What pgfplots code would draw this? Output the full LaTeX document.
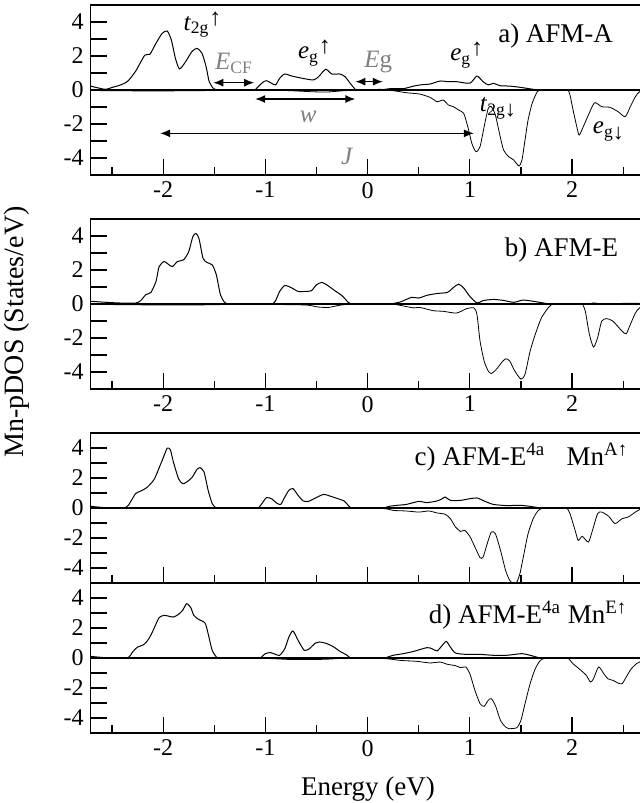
\documentclass[border=0pt]{standalone}
\usepackage{fontspec}
\setmainfont{Liberation Serif}
\usepackage{pgfplots}
\pgfplotsset{compat=1.18}
\usetikzlibrary{arrows.meta}
\definecolor{annogray}{gray}{0.5}

% one DOS panel: 51.1pt per eV, right spine pushed off the page
\pgfplotsset{dospanel/.style={
    scale only axis, width=281.6pt,
    xmin=-2.71, xmax=2.8, ymin=-5, ymax=5,
    anchor=north west,
    axis line style={line width=0.6pt},
    tick align=inside, xtick pos=bottom, ytick pos=left,
    xtick={-2,...,2}, xticklabels={-2,-1,0,1,2},
    minor xtick={-2.5,-1.5,...,2.5},
    ytick={-4,...,4}, yticklabels={-4,,-2,,0,,2,,4},
    major tick length=8pt, minor tick length=4pt,
    every tick/.style={black, line width=0.6pt},
    tick label style={font=\fontsize{12}{14}\selectfont},
    cycle list={{black, line width=0.5pt}},
    every axis plot post/.append style={smooth, tension=0.4},
    no markers,
  }}
\tikzset{
  paneltitle/.style={font=\fontsize{13.5}{16}\selectfont},
  anno/.style={font=\fontsize{12.5}{15}\selectfont},
  dbl/.style={{Latex[length=5pt,width=4pt]}-{Latex[length=5pt,width=4pt]}, line width=0.7pt},
}
\newcommand{\up}{\raisebox{0.45ex}{\fontsize{12}{14}\selectfont ↑}}
\newcommand{\dn}{\raisebox{-0.2ex}{\fontsize{11}{13}\selectfont ↓}}

\begin{document}
\begin{tikzpicture}

% ---------- a) AFM-A
\begin{axis}[dospanel, height=85pt, at={(0pt,0pt)}]
\addplot[black, line width=1pt] coordinates {(-2.71,0) (2.8,0)};
\addplot coordinates {
(-2.71,0.23) (-2.62,0.1) (-2.56,0.04) (-2.50,0.15) (-2.43,0.27) (-2.35,0.5)
(-2.27,1.1) (-2.18,2.05) (-2.13,2.1) (-2.07,2.75) (-2.01,3.33) (-1.96,3.47)
(-1.92,2.94) (-1.88,1.86) (-1.84,1.24) (-1.78,1.67) (-1.72,2.25) (-1.67,2.45)
(-1.62,2.16) (-1.58,1.37) (-1.55,0.5) (-1.51,0.1) (-1.47,0) (-1.43,0) (-1.12,0)
(-1.09,0.08) (-1.03,0.43) (-0.99,0.55) (-0.94,0.4) (-0.90,0.3) (-0.86,0.69)
(-0.81,0.94) (-0.74,0.82) (-0.64,0.69) (-0.53,0.59) (-0.48,0.78) (-0.41,1.22)
(-0.35,0.94) (-0.27,0.94) (-0.22,0.78) (-0.17,0.39) (-0.12,0.04) (-0.09,0) (-0.05,0)
(0.12,0) (0.22,0.08) (0.35,0.08) (0.45,0.23) (0.53,0.31) (0.61,0.35)
(0.71,0.53) (0.78,0.49) (0.87,0.49) (1.0,0.4) (1.07,0.82) (1.13,0.49)
(1.18,0.3) (1.23,0.39) (1.30,0.25) (1.39,0.23) (1.49,0.16) (1.62,0.04)
(1.69,0) (1.75,0) (2.8,0)
};
\addplot coordinates {
(-2.71,-0.03) (-2.3,-0.05) (-1.9,-0.05) (-1.5,-0.03) (-1.1,0) (-0.8,-0.03)
(-0.55,-0.1) (-0.4,-0.12) (-0.25,-0.05) (-0.1,0) (0.0,-0.02) (0.12,0.04)
(0.25,-0.04) (0.38,-0.16) (0.51,-0.24) (0.61,-0.43) (0.68,-0.69) (0.74,-0.59)
(0.79,-0.88) (0.84,-0.98) (0.89,-1.18) (0.94,-1.37) (0.98,-2.16) (1.02,-3.14)
(1.06,-3.63) (1.10,-3.33) (1.14,-2.16) (1.18,-1.08) (1.21,-0.98) (1.25,-1.47)
(1.29,-2.55) (1.33,-3.53) (1.38,-3.92) (1.43,-4.12) (1.48,-4.47) (1.51,-4.12)
(1.54,-2.94) (1.57,-1.76) (1.61,-0.78) (1.66,-0.1) (1.70,0) (1.74,0) (1.93,0) (1.96,0)
(1.98,-0.29) (2.01,-1.18) (2.05,-2.25) (2.07,-2.65) (2.11,-2.16) (2.16,-1.47)
(2.22,-0.75) (2.29,-0.98) (2.37,-1.02) (2.45,-1.27) (2.52,-1.57) (2.57,-0.98)
(2.62,-0.39) (2.66,-0.1) (2.72,0) (2.8,0)
};
\node[paneltitle, anchor=east] at (axis cs:2.47,3.2) {a) AFM-A};
\node[anno, anchor=west] at (axis cs:-1.87,3.85) {\textit{t}\textsubscript{2g}\up};
\node[anno, anchor=west, text=annogray] at (axis cs:-1.56,1.57) {\textit{E}\textsubscript{CF}};
\node[anno] at (axis cs:-0.52,2.16) {\textit{e}\textsubscript{g}\up};
\node[anno, anchor=west, text=annogray] at (axis cs:-0.10,1.67) {\textit{E}g};
\node[anno] at (axis cs:0.97,2.06) {\textit{e}\textsubscript{g}\up};
\node[anno, text=annogray] at (axis cs:-0.58,-1.57) {\textit{w}};
\node[anno, text=annogray] at (axis cs:-0.2,-3.9) {\textit{J}};
\node[anno] at (axis cs:1.28,-1.08) {\textit{t}\textsubscript{2g\dn}};
\node[anno] at (axis cs:2.36,-2.45) {\textit{e}\textsubscript{g\dn}};
\draw[dbl] (axis cs:-1.51,0.43) -- (axis cs:-1.11,0.43);
\draw[dbl] (axis cs:-0.12,0.49) -- (axis cs:0.15,0.49);
\draw[dbl] (axis cs:-1.10,-0.53) -- (axis cs:-0.12,-0.53);
\draw[dbl] (axis cs:-2.03,-2.55) -- (axis cs:1.04,-2.55);
\end{axis}

% ---------- b) AFM-E
\begin{axis}[dospanel, height=85pt, at={(0pt,-107pt)}]
\addplot[black, line width=1pt] coordinates {(-2.71,0) (2.8,0)};
\addplot coordinates {
(-2.71,0.16) (-2.56,0.1) (-2.43,0.06) (-2.27,0.05) (-2.22,0.2) (-2.17,0.55)
(-2.12,0.68) (-2.07,1.33) (-2.04,2.2) (-1.99,2.5) (-1.95,2.34) (-1.91,2.2)
(-1.86,2.5) (-1.80,2.6) (-1.75,3.08) (-1.71,3.96) (-1.68,4.15) (-1.65,3.86)
(-1.61,2.69) (-1.57,2.44) (-1.52,2.3) (-1.48,1.72) (-1.44,0.55) (-1.40,0.1)
(-1.36,0) (-1.32,0) (-0.96,0) (-0.93,0) (-0.90,0.2) (-0.86,0.74) (-0.81,1.09) (-0.74,0.94)
(-0.68,0.74) (-0.61,0.74) (-0.55,0.78) (-0.50,1.13) (-0.45,1.27) (-0.40,1.13)
(-0.32,0.78) (-0.25,0.49) (-0.19,0.1) (-0.16,0) (-0.12,0) (0.18,0) (0.22,0) (0.32,0.12)
(0.43,0.39) (0.50,0.35) (0.58,0.51) (0.68,0.62) (0.78,0.68) (0.84,0.97)
(0.89,1.17) (0.94,0.94) (1.0,0.45) (1.07,0.06) (1.13,0.2) (1.23,0.27)
(1.33,0.21) (1.43,0.1) (1.52,0.23) (1.62,0.16) (1.72,0.06) (1.80,0)
(2.15,0) (2.21,0.06) (2.3,0) (2.57,0.04) (2.8,0)
};
\addplot coordinates {
(-2.71,-0.02) (-2.2,-0.05) (-1.6,-0.05) (-1.3,-0.02) (-0.9,-0.03) (-0.6,-0.06)
(-0.48,-0.18) (-0.38,-0.2) (-0.28,-0.08) (-0.15,0) (0.22,0) (0.32,-0.08)
(0.45,-0.23) (0.51,-0.2) (0.64,-0.39) (0.74,-0.43) (0.87,-0.53) (0.97,-0.27)
(1.04,-0.23) (1.07,-0.62) (1.10,-2.18) (1.14,-3.35) (1.18,-3.94) (1.21,-4.09)
(1.26,-3.84) (1.31,-3.45) (1.35,-3.22) (1.39,-3.35) (1.44,-3.94) (1.50,-4.42)
(1.54,-4.13) (1.59,-2.77) (1.64,-1.79) (1.70,-0.82) (1.77,-0.2) (1.81,0) (1.85,0)
(2.07,0) (2.10,0) (2.13,-0.43) (2.17,-1.79) (2.21,-2.53) (2.25,-1.99) (2.29,-1.01)
(2.34,-0.86) (2.40,-1.01) (2.49,-1.6) (2.53,-1.75) (2.57,-1.21) (2.62,-0.53)
(2.66,-0.23) (2.72,-0.04) (2.8,0)
};
\node[paneltitle, anchor=east] at (axis cs:2.52,3.18) {b) AFM-E};
\end{axis}

% ---------- c) AFM-E4a, MnA
\begin{axis}[dospanel, height=75pt, at={(0pt,-214pt)}, xticklabels={}]
\addplot[black, line width=1pt] coordinates {(-2.71,0) (2.8,0)};
\addplot coordinates {
(-2.71,0.11) (-2.56,0.02) (-2.37,0.02) (-2.32,0.4) (-2.27,0.96) (-2.22,1.13)
(-2.16,1.36) (-2.09,1.89) (-2.04,2.67) (-1.99,3.51) (-1.96,4.0) (-1.93,3.89)
(-1.90,3.07) (-1.85,1.96) (-1.81,1.62) (-1.77,1.73) (-1.72,2.02) (-1.67,2.56)
(-1.64,2.69) (-1.60,2.4) (-1.56,1.18) (-1.52,0.29) (-1.48,0) (-1.44,0) (-1.10,0) (-1.07,0)
(-1.03,0.33) (-0.99,0.69) (-0.94,0.62) (-0.89,0.33) (-0.85,0.24) (-0.81,0.73)
(-0.77,1.18) (-0.73,1.29) (-0.68,0.84) (-0.63,0.47) (-0.58,0.44) (-0.51,0.67)
(-0.43,0.91) (-0.37,0.8) (-0.29,0.62) (-0.23,0.47) (-0.19,0.18) (-0.16,0) (-0.12,0)
(0.13,0) (0.16,0) (0.21,0.11) (0.29,0.18) (0.38,0.24) (0.50,0.44) (0.58,0.36)
(0.68,0.47) (0.73,0.62) (0.76,0.73) (0.81,0.51) (0.91,0.51) (1.0,0.62)
(1.07,0.67) (1.15,0.44) (1.23,0.24) (1.36,0.16) (1.49,0.18) (1.59,0.11)
(1.69,0) (1.75,0) (2.8,0)
};
\addplot coordinates {
(-2.71,-0.02) (-1.5,-0.03) (-0.8,-0.03) (-0.16,0) (0.16,-0.04) (0.25,-0.16)
(0.38,-0.2) (0.50,-0.27) (0.60,-0.2) (0.68,-0.33) (0.76,-0.42) (0.81,-0.71)
(0.86,-1.27) (0.91,-1.56) (0.95,-1.49) (1.00,-1.89) (1.05,-2.6) (1.10,-3.31)
(1.13,-3.27) (1.17,-2.38) (1.21,-1.6) (1.25,-1.71) (1.30,-2.82) (1.35,-4.16)
(1.39,-4.82) (1.43,-5.1) (1.46,-4.93) (1.49,-4.38) (1.53,-3.04) (1.57,-1.71)
(1.62,-0.71) (1.67,-0.16) (1.72,0) (1.76,0) (1.92,0) (1.95,0) (1.98,-0.38) (2.03,-1.49)
(2.06,-2.16) (2.10,-1.89) (2.16,-2.27) (2.20,-1.49) (2.25,-0.38) (2.29,-0.27)
(2.36,-0.56) (2.42,-1.04) (2.49,-0.71) (2.55,-0.6) (2.62,-0.27) (2.66,-0.11)
(2.72,0) (2.8,0)
};
\node[paneltitle, anchor=east] at (axis cs:2.62,3.4) {c) AFM-E\textsuperscript{4a}\hspace{0.8em}Mn\textsuperscript{A↑}};
\end{axis}

% ---------- d) AFM-E4a, MnE
\begin{axis}[dospanel, height=75pt, at={(0pt,-289pt)}]
\addplot[black, line width=1pt] coordinates {(-2.71,0) (2.8,0)};
\addplot coordinates {
(-2.71,0.11) (-2.56,0.02) (-2.35,0.02) (-2.30,0.4) (-2.25,0.73) (-2.19,0.89)
(-2.14,1.29) (-2.09,1.96) (-2.04,2.69) (-1.99,2.84) (-1.94,2.78) (-1.90,2.73)
(-1.85,2.91) (-1.81,3.18) (-1.77,3.62) (-1.73,3.36) (-1.70,2.84) (-1.65,2.56)
(-1.59,2.33) (-1.56,1.62) (-1.52,0.51) (-1.47,0) (-1.43,0) (-1.08,0) (-1.05,0) (-1.0,0.29)
(-0.95,0.36) (-0.90,0.24) (-0.86,0.18) (-0.81,0.62) (-0.77,1.4) (-0.73,1.8)
(-0.68,1.18) (-0.62,0.51) (-0.57,0.62) (-0.51,1.0) (-0.47,1.07) (-0.40,0.96)
(-0.33,0.73) (-0.27,0.44) (-0.20,0.18) (-0.17,0) (-0.13,0) (0.14,0) (0.17,0) (0.25,0.18)
(0.35,0.29) (0.45,0.44) (0.58,0.69) (0.63,0.62) (0.68,0.47) (0.73,0.84)
(0.77,1.11) (0.81,0.73) (0.86,0.33) (0.97,0.24) (1.10,0.24) (1.23,0.18)
(1.36,0.18) (1.51,0.29) (1.59,0.18) (1.69,0) (1.75,0) (2.8,0)
};
\addplot coordinates {
(-2.71,-0.03) (-1.5,-0.03) (-1.0,-0.03) (-0.75,-0.1) (-0.55,-0.1) (-0.4,-0.08)
(-0.17,0) (0.17,-0.04) (0.32,-0.16) (0.48,-0.22) (0.61,-0.33) (0.71,-0.27)
(0.78,-0.42) (0.86,-0.51) (0.91,-0.64) (0.96,-0.6) (1.00,-1.04) (1.05,-2.16)
(1.10,-3.04) (1.14,-3.22) (1.18,-2.82) (1.21,-2.71) (1.25,-3.16) (1.30,-4.16)
(1.35,-4.6) (1.39,-4.71) (1.46,-4.64) (1.50,-4.16) (1.54,-3.04) (1.59,-1.71)
(1.64,-0.71) (1.69,-0.16) (1.74,0) (1.78,0) (1.93,0) (1.96,0) (2.01,-0.38) (2.08,-0.78)
(2.14,-1.16) (2.18,-1.6) (2.21,-1.38) (2.26,-0.6) (2.31,-1.04) (2.35,-1.38)
(2.40,-1.49) (2.45,-1.67) (2.49,-1.71) (2.53,-1.27) (2.58,-0.71) (2.63,-0.38)
(2.66,-0.27) (2.72,-0.1) (2.8,0)
};
\node[paneltitle, anchor=east] at (axis cs:2.61,2.87) {d) AFM-E\textsuperscript{4a} Mn\textsuperscript{E↑}};
\end{axis}

\node[rotate=90, font=\fontsize{14}{16}\selectfont] at (-36.8pt,-163.5pt) {Mn-pDOS (States/eV)};
\node[font=\fontsize{13.5}{16}\selectfont] at (138.7pt,-392pt) {Energy (eV)};

\pgfresetboundingbox
\path[use as bounding box] (-45.3pt,2.5pt) rectangle (274.4pt,-399pt);
\end{tikzpicture}
\end{document}
